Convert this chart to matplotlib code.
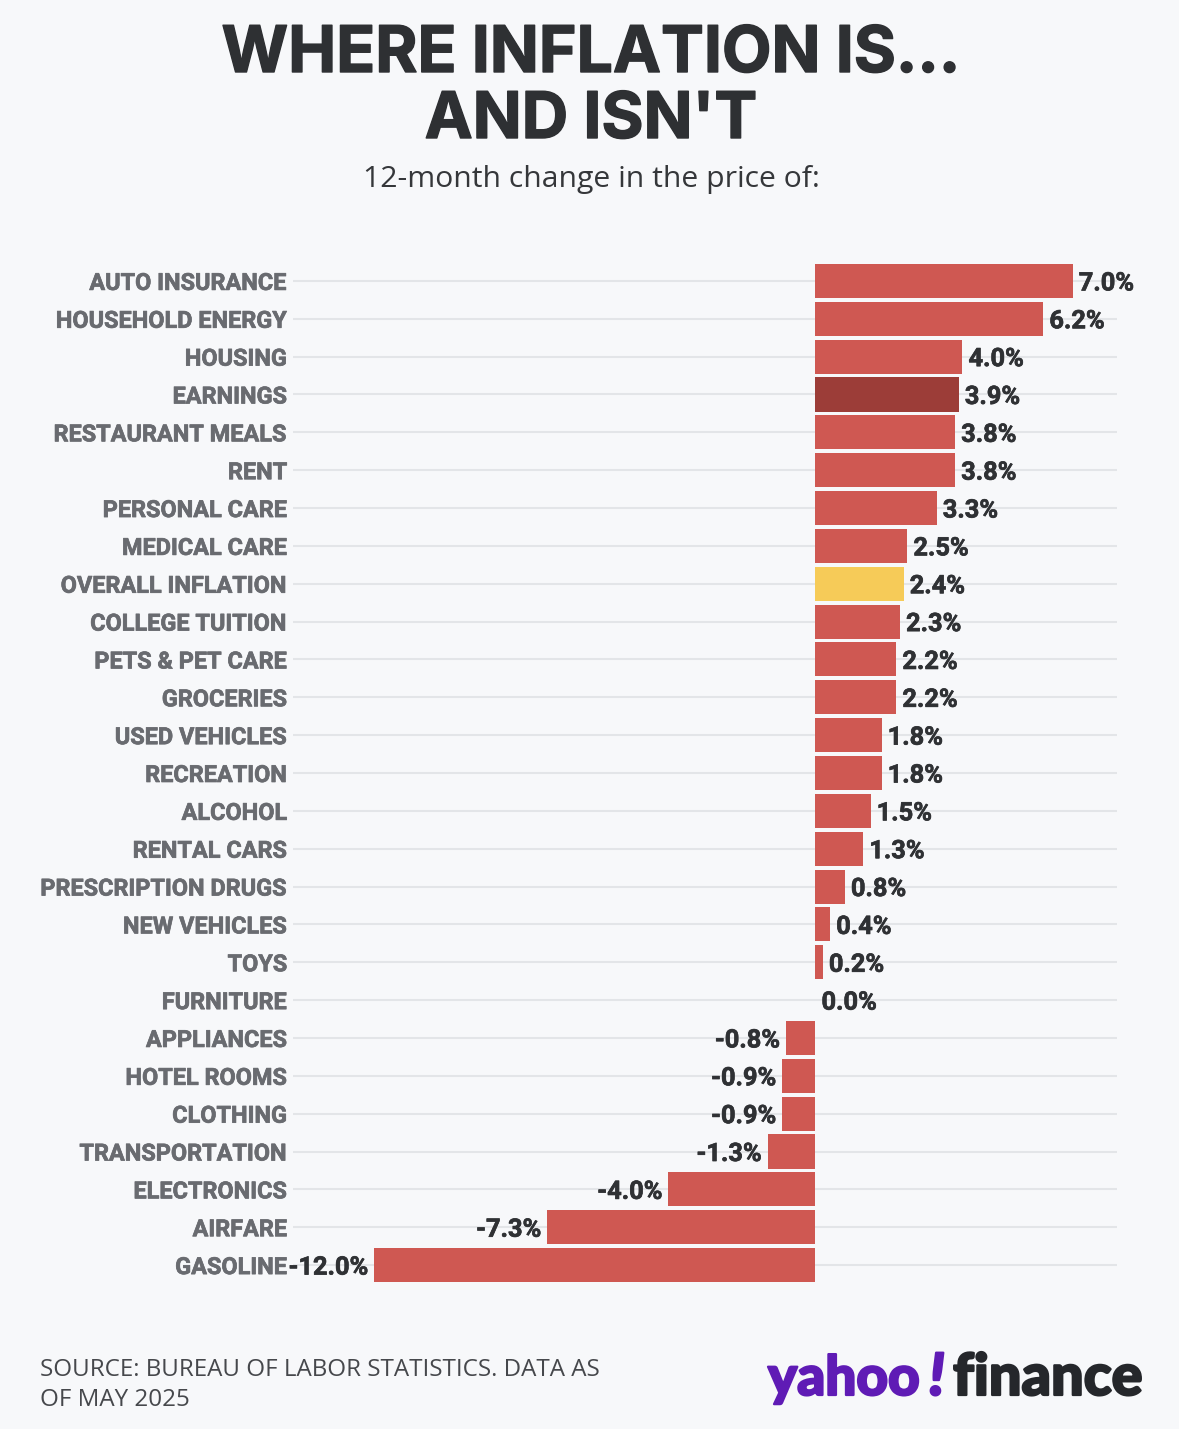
import matplotlib

matplotlib.use("Agg")
import matplotlib.patheffects as pe
import matplotlib.pyplot as plt

W, H = 1179, 1429
BG = "#f7f8fa"

categories = [
    "AUTO INSURANCE", "HOUSEHOLD ENERGY", "HOUSING", "EARNINGS", "RESTAURANT MEALS",
    "RENT", "PERSONAL CARE", "MEDICAL CARE", "OVERALL INFLATION", "COLLEGE TUITION",
    "PETS & PET CARE", "GROCERIES", "USED VEHICLES", "RECREATION", "ALCOHOL",
    "RENTAL CARS", "PRESCRIPTION DRUGS", "NEW VEHICLES", "TOYS", "FURNITURE",
    "APPLIANCES", "HOTEL ROOMS", "CLOTHING", "TRANSPORTATION", "ELECTRONICS",
    "AIRFARE", "GASOLINE",
]
values = [
    7.0, 6.2, 4.0, 3.9, 3.8, 3.8, 3.3, 2.5, 2.4, 2.3, 2.2, 2.2, 1.8, 1.8,
    1.5, 1.3, 0.8, 0.4, 0.2, 0.0, -0.8, -0.9, -0.9, -1.3, -4.0, -7.3, -12.0,
]
highlight = {"EARNINGS": "#9c3d38", "OVERALL INFLATION": "#f6cb58"}


def thick(color, width):
    return [pe.withStroke(linewidth=width, foreground=color)]


fig = plt.figure(figsize=(W / 100, H / 100), dpi=100, facecolor=BG)

# axes in pixel terms: x 293-1117, y 262-1284
ax = fig.add_axes([293 / W, 1 - 1284 / H, (1117 - 293) / W, (1284 - 262) / H])
ax.set_facecolor("none")
ppu = 36.75
ax.set_xlim((293 - 815.4) / ppu, (1117 - 815.4) / ppu)
ax.set_ylim(len(values) - 0.5, -0.5)
for s in ax.spines.values():
    s.set_visible(False)
ax.set_yticks(range(len(values)))
ax.set_yticklabels(categories, fontsize=16.9, fontweight="bold", family="Roboto", color="#696b70",
                   path_effects=thick("#696b70", 0.5))
ax.tick_params(axis="y", length=0, pad=4)
ax.set_xticks([])
ax.grid(axis="y", color="#e3e5e8", linewidth=1.5, zorder=0)
ax.set_axisbelow(True)

colors = [highlight.get(c, "#cf5852") for c in categories]
ax.barh(range(len(values)), values, height=0.9, color=colors, zorder=2)

for i, v in enumerate(values):
    ha = "left" if v >= 0 else "right"
    off = 4.4 if v >= 0 else -4.4
    ax.annotate(f"{v:.1f}%", (v, i), xytext=(off, 0), textcoords="offset points",
                ha=ha, va="center_baseline", fontsize=18.3, fontweight="bold", family="Roboto",
                color="#2f3134", zorder=3, path_effects=thick("#2f3134", 0.5))


def px_text(x, y, s, **kw):
    fig.text(x / W, 1 - y / H, s, **kw)


px_text(591, 72, "WHERE INFLATION IS...", ha="center", va="baseline", fontsize=46.3,
        fontweight="bold", family="Inter", color="#2e3033", path_effects=thick("#2e3033", 1.0))
px_text(591, 138, "AND ISN'T", ha="center", va="baseline", fontsize=46.3,
        fontweight="bold", family="Inter", color="#2e3033", path_effects=thick("#2e3033", 1.0))
px_text(591, 180, "12-month change in the price of:", ha="center", va="center", fontsize=21.7,
        family="Open Sans", color="#35373a")
px_text(40, 1369.5, "SOURCE: BUREAU OF LABOR STATISTICS. DATA AS", ha="left", va="center",
        fontsize=17.4, family="Open Sans", color="#46484c")
px_text(40, 1400.5, "OF MAY 2025", ha="left", va="center", fontsize=17.4,
        family="Open Sans", color="#46484c")
px_text(768, 1395, "yahoo", ha="left", va="baseline", fontsize=39.5, fontweight="black",
        family="Lato", color="#5f1bb5", path_effects=thick("#5f1bb5", 1.6))
px_text(929, 1395, "!", ha="left", va="baseline", fontsize=42, fontweight="black",
        style="italic", family="Lato", color="#5f1bb5", path_effects=thick("#5f1bb5", 1.6))
px_text(953, 1395, "finance", ha="left", va="baseline", fontsize=41.5, fontweight="black",
        family="Lato", color="#25272b", path_effects=thick("#25272b", 1.6))

fig.savefig("out.png", dpi=100, facecolor=BG)
